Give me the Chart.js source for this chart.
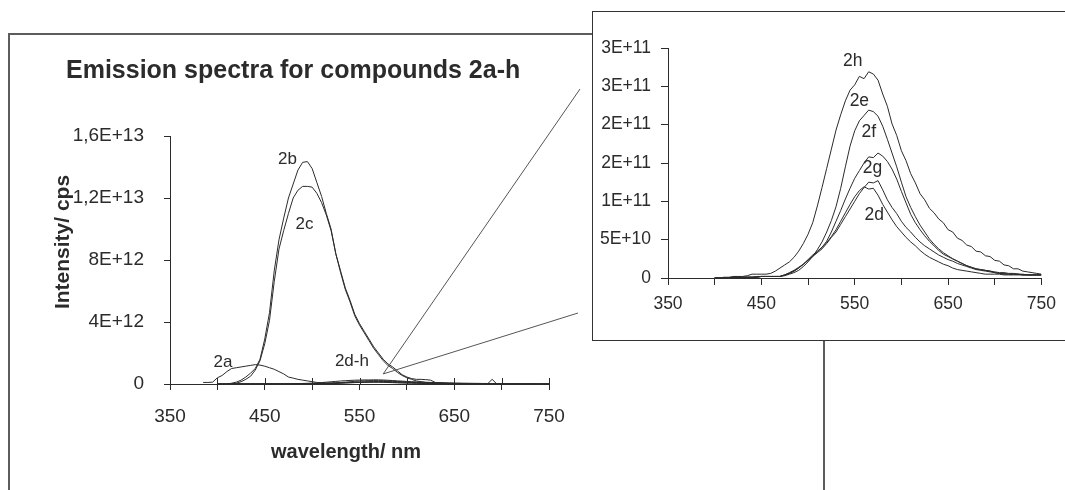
<!DOCTYPE html>
<html>
<head>
<meta charset="utf-8">
<script src="https://cdn.jsdelivr.net/npm/chart.js@4.4.0/dist/chart.umd.min.js"></script>
<style>
  body { margin: 0; background: #fff; }
  #page { position: relative; width: 1065px; height: 490px; overflow: hidden; background: #fff; }
  #frame { position: absolute; left: 8px; top: 33px; width: 813px; height: 480px; border: 2px solid #5c5c5c; }
  #main { position: absolute; left: 0; top: 0; }
  #inset { position: absolute; left: 592px; top: 11px; width: 500px; height: 328px; border: 1px solid #333; background: #fff; }
  #insetChart { position: absolute; left: 0; top: 0; }
</style>
</head>
<body>
<div id="page">
  <div id="frame"></div>
  <canvas id="main" width="1065" height="490"></canvas>
  <div id="inset"><canvas id="insetChart" width="472" height="328"></canvas></div>
</div>
<script>
const FONT = '"Liberation Sans", Arial, sans-serif';
const INK = '#2b2b2b';

// tick labels (as printed on the original)
const xTickLabels = ['350', '', '450', '', '550', '', '650', '', '750'];
const mainYTickLabels = ['0', '4E+12', '8E+12', '1,2E+13', '1,6E+13'];
const insetYTickLabels = ['0', '5E+10', '1E+11', '2E+11', '2E+11', '3E+11', '3E+11'];

// main plot, wavelength (nm) and intensity in units of 1E12 cps
const mainWl = [380, 385, 390, 395, 400, 405, 410, 415, 420, 425, 430, 435, 440, 445, 450, 455,
  460, 465, 470, 475, 480, 485, 490, 495, 500, 505, 510, 515, 520, 525, 530, 535, 540, 545,
  550, 555, 560, 565, 570, 575, 580, 585, 590, 595, 600, 605, 610, 615, 620, 625, 630, 635,
  640, 645, 650, 655, 660, 665, 670, 675, 680, 685, 690, 695, 700];
const s2a = [null, 0.1, 0.1, 0.12, 0.4, 0.55, 0.8, 1.0, 1.05, 1.1, 1.15, 1.2, 1.25, 1.22, 1.15, 1.05,
  0.95, 0.8, 0.65, 0.45, 0.38, 0.3, 0.25, 0.2, 0.15, 0.1, 0.08, 0.05, 0.03, 0.02, 0,
  null, null, null, null, null, null, null, null, null, null, null, null, null, null, null, null,
  null, null, null, null, null, null, null, null, null, null, null, null, null, null, null, null, null, null];
const s2b = [null, null, null, null, null, null, 0, 0.05, 0.12, 0.25, 0.45, 0.7, 1.0, 1.6, 2.9, 4.6,
  7.3, 9.3, 10.7, 12.0, 12.9, 13.8, 14.3, 14.35, 13.9, 13.0, 12.1, 11.0, 10.0, 8.4, 7.3, 6.2, 5.4, 4.5,
  3.9, 3.4, 2.9, 2.4, 2.0, 1.6, 1.3, 1.1, 0.85, 0.6, 0.45, 0.35, 0.3, 0.3, 0.28, 0.25, 0.1, 0.08,
  0.06, 0.05, 0.04, 0.02, 0, null, null, null, null, 0, 0.3, 0, null];
const s2c = [null, null, null, null, null, null, 0, 0.02, 0.05, 0.15, 0.3, 0.5, 0.9, 1.5, 2.6, 4.1,
  6.6, 8.7, 9.9, 11.0, 12.0, 12.5, 12.75, 12.75, 12.7, 12.3, 11.7, 10.9, 9.9, 8.4, 7.2, 6.1, 5.3, 4.4,
  3.8, 3.3, 2.8, 2.3, 1.9, 1.5, 1.2, 1.0, 0.75, 0.55, 0.4, 0.3, 0.2, 0.15, 0.1, 0.08, 0.05, 0.03,
  0.02, 0.01, 0, null, null, null, null, null, null, null, null, null, null];

// inset, wavelength (nm) and intensity in units of 1E11 cps
const insetWl = [400, 405, 410, 415, 420, 425, 430, 435, 440, 445, 450, 455, 460, 465, 470, 475,
  480, 485, 490, 495, 500, 505, 510, 515, 520, 525, 530, 535, 540, 545, 550, 555, 560, 565, 570,
  575, 580, 585, 590, 595, 600, 605, 610, 615, 620, 625, 630, 635, 640, 645, 650, 655, 660, 665,
  670, 675, 680, 685, 690, 695, 700, 705, 710, 715, 720, 725, 730, 735, 740, 745, 750];
const s2h = [0, 0, 0.01, 0.01, 0.02, 0.02, 0.02, 0.03, 0.05, 0.05, 0.05, 0.05, 0.06, 0.09, 0.13, 0.17,
  0.21, 0.27, 0.35, 0.45, 0.57, 0.72, 0.94, 1.18, 1.43, 1.68, 1.93, 2.13, 2.31, 2.45, 2.52, 2.63,
  2.6, 2.69, 2.66, 2.58, 2.4, 2.24, 2.01, 1.86, 1.66, 1.53, 1.36, 1.24, 1.1, 1.02, 0.91, 0.85,
  0.77, 0.72, 0.63, 0.6, 0.52, 0.49, 0.43, 0.41, 0.35, 0.34, 0.29, 0.28, 0.23, 0.22, 0.17, 0.16,
  0.12, 0.12, 0.09, 0.08, 0.07, 0.06, 0.05];
const s2e = [0, 0, 0, 0, 0.01, 0.01, 0.01, 0.01, 0.01, 0.02, 0.02, 0.02, 0.02, 0.02, 0.02, 0.03,
  0.05, 0.07, 0.1, 0.15, 0.21, 0.28, 0.37, 0.47, 0.6, 0.75, 0.93, 1.17, 1.45, 1.72, 1.92, 2.05,
  2.12, 2.19, 2.17, 2.11, 1.98, 1.81, 1.63, 1.45, 1.25, 1.06, 0.92, 0.8, 0.69, 0.6, 0.51, 0.44,
  0.38, 0.33, 0.29, 0.25, 0.22, 0.19, 0.16, 0.14, 0.12, 0.11, 0.1, 0.09, 0.08, 0.07, 0.07, 0.06,
  0.06, 0.05, 0.05, 0.04, 0.04, 0.04, 0.04];
const s2f = [0, 0, 0, 0, 0.01, 0.01, 0.01, 0.01, 0.01, 0.01, 0.02, 0.02, 0.02, 0.02, 0.02, 0.04,
  0.07, 0.1, 0.14, 0.18, 0.24, 0.3, 0.35, 0.4, 0.48, 0.6, 0.74, 0.88, 1.03, 1.17, 1.3, 1.4,
  1.5, 1.58, 1.57, 1.63, 1.59, 1.52, 1.42, 1.29, 1.13, 0.98, 0.83, 0.72, 0.63, 0.55, 0.48, 0.42,
  0.36, 0.31, 0.28, 0.25, 0.22, 0.19, 0.16, 0.14, 0.12, 0.11, 0.1, 0.09, 0.07, 0.06, 0.05, 0.05,
  0.05, 0.05, 0.04, 0.04, 0.04, 0.04, 0.04];
const s2g = [0, 0, 0, 0, 0.01, 0.01, 0.01, 0.01, 0.01, 0.01, 0.02, 0.02, 0.02, 0.02, 0.02, 0.04,
  0.06, 0.09, 0.13, 0.18, 0.23, 0.28, 0.33, 0.38, 0.45, 0.53, 0.6, 0.7, 0.8, 0.9, 1.0, 1.1,
  1.18, 1.25, 1.24, 1.27, 1.15, 1.02, 0.92, 0.84, 0.74, 0.66, 0.6, 0.53, 0.47, 0.42, 0.38, 0.34,
  0.3, 0.27, 0.24, 0.22, 0.19, 0.17, 0.15, 0.13, 0.11, 0.1, 0.09, 0.08, 0.07, 0.06, 0.06, 0.05,
  0.05, 0.05, 0.04, 0.04, 0.04, 0.04, 0.04];
const s2d = [0, 0, 0, 0, 0.01, 0.01, 0.01, 0.01, 0.01, 0.01, 0.02, 0.02, 0.02, 0.02, 0.02, 0.04,
  0.06, 0.09, 0.13, 0.18, 0.23, 0.29, 0.34, 0.4, 0.46, 0.54, 0.63, 0.74, 0.85, 0.96, 1.06, 1.14,
  1.19, 1.16, 1.17, 1.08, 0.96, 0.86, 0.76, 0.67, 0.6, 0.53, 0.47, 0.42, 0.36, 0.31, 0.27, 0.24,
  0.21, 0.18, 0.16, 0.13, 0.11, 0.1, 0.09, 0.08, 0.07, 0.06, 0.05, 0.05, 0.05, 0.05, 0.04, 0.04,
  0.04, 0.04, 0.04, 0.04, 0.04, 0.04, 0.04];

// curve labels, placed in data space (nm, cps)
const mainLabels = ['2b', '2c', '2a', '2d-h'];
const mainLabelX = [474, 492, 406, 542];
const mainLabelY = [14.5e12, 10.3e12, 1.4e12, 1.45e12];
const insetLabels = ['2h', '2e', '2f', '2g', '2d'];
const insetLabelX = [548, 555, 565, 569, 571];
const insetLabelY = [2.83e11, 2.31e11, 1.9e11, 1.43e11, 0.82e11];

function pts(wl, vals, unit) {
  return wl.map((w, i) => ({ x: w, y: vals[i] == null ? null : vals[i] * unit }));
}
function line(data) {
  return { data: data, borderColor: INK, borderWidth: 1, pointRadius: 0, tension: 0, spanGaps: false, fill: false };
}

const mainDecor = {
  id: 'mainDecor',
  afterDraw(chart) {
    const ctx = chart.ctx, x = chart.scales.x, y = chart.scales.y;
    ctx.save();
    ctx.strokeStyle = INK;
    ctx.lineWidth = 1;
    // x tick marks also reach up into the plot
    x.ticks.forEach(t => {
      const px = Math.round(x.getPixelForValue(t.value)) + 0.5;
      ctx.beginPath();
      ctx.moveTo(px, y.bottom);
      ctx.lineTo(px, y.bottom - 6);
      ctx.stroke();
    });
    ctx.fillStyle = INK;
    ctx.font = 'bold 25px ' + FONT;
    ctx.textAlign = 'left';
    ctx.textBaseline = 'alphabetic';
    ctx.fillText('Emission spectra for compounds 2a-h', 66, 78);
    ctx.font = 'bold 20px ' + FONT;
    ctx.textAlign = 'center';
    ctx.textBaseline = 'middle';
    ctx.fillText('wavelength/ nm', 346, 452);
    ctx.save();
    ctx.font = 'bold 21px ' + FONT;
    ctx.translate(63, 242);
    ctx.rotate(-Math.PI / 2);
    ctx.fillText('Intensity/ cps', 0, 0);
    ctx.restore();
    ctx.font = '17px ' + FONT;
    mainLabels.forEach((t, i) => {
      ctx.fillText(t, x.getPixelForValue(mainLabelX[i]), y.getPixelForValue(mainLabelY[i]));
    });
    // zoom connector lines to the inset
    const box = document.getElementById('inset').getBoundingClientRect();
    const sx = x.getPixelForValue(575), sy = y.getPixelForValue(0.65e12);
    ctx.strokeStyle = '#555';
    ctx.beginPath();
    ctx.moveTo(sx, sy); ctx.lineTo(box.left - 12, box.top + 78);
    ctx.moveTo(sx, sy); ctx.lineTo(box.left - 14, box.bottom - 28);
    ctx.stroke();
    ctx.restore();
  }
};

const insetDecor = {
  id: 'insetDecor',
  afterDraw(chart) {
    const ctx = chart.ctx, x = chart.scales.x, y = chart.scales.y;
    ctx.save();
    ctx.fillStyle = INK;
    ctx.font = '17.5px ' + FONT;
    ctx.textAlign = 'center';
    ctx.textBaseline = 'middle';
    insetLabels.forEach((t, i) => {
      ctx.fillText(t, x.getPixelForValue(insetLabelX[i]), y.getPixelForValue(insetLabelY[i]));
    });
    ctx.restore();
  }
};

function axis(min, max, step, labels, opts) {
  return {
    type: 'linear', min: min, max: max,
    border: { color: INK, width: 1 },
    grid: { drawOnChartArea: false, drawTicks: true, tickLength: opts.tick, color: INK },
    ticks: {
      stepSize: step, autoSkip: false, maxRotation: 0, padding: opts.pad, color: INK,
      font: { family: FONT, size: opts.size },
      callback: (v, i) => labels[i]
    },
    afterFit: opts.fit
  };
}

new Chart(document.getElementById('main'), {
  type: 'line',
  data: {
    datasets: [
      line(pts(mainWl, s2a, 1e12)),
      line(pts(mainWl, s2b, 1e12)),
      line(pts(mainWl, s2c, 1e12)),
      line(pts(insetWl, s2d, 1e11)),
      line(pts(insetWl, s2e, 1e11)),
      line(pts(insetWl, s2f, 1e11)),
      line(pts(insetWl, s2g, 1e11)),
      line(pts(insetWl, s2h, 1e11))
    ]
  },
  options: {
    responsive: false, animation: false, devicePixelRatio: 1,
    layout: { padding: { left: 0, top: 136, right: 516, bottom: 0 } },
    plugins: { legend: { display: false }, tooltip: { enabled: false }, title: { display: false } },
    scales: {
      x: axis(350, 750, 50, xTickLabels, { tick: 6, pad: 15, size: 19, fit: s => { s.height = 106; } }),
      y: axis(0, 1.6e13, 4e12, mainYTickLabels, { tick: 6, pad: 20, size: 19, fit: s => { s.width = 170; } })
    }
  },
  plugins: [mainDecor]
});

new Chart(document.getElementById('insetChart'), {
  type: 'line',
  data: {
    datasets: [
      line(pts(insetWl, s2d, 1e11)),
      line(pts(insetWl, s2e, 1e11)),
      line(pts(insetWl, s2f, 1e11)),
      line(pts(insetWl, s2g, 1e11)),
      line(pts(insetWl, s2h, 1e11))
    ]
  },
  options: {
    responsive: false, animation: false, devicePixelRatio: 1,
    layout: { padding: { left: 0, top: 36, right: 19, bottom: 0 } },
    plugins: { legend: { display: false }, tooltip: { enabled: false }, title: { display: false } },
    scales: {
      x: axis(350, 750, 50, xTickLabels, { tick: 7, pad: 9, size: 17.5, fit: s => { s.height = 62; } }),
      y: axis(0, 3e11, 5e10, insetYTickLabels, { tick: 7, pad: 10, size: 17.5, fit: s => { s.width = 75; } })
    }
  },
  plugins: [insetDecor]
});
</script>
</body>
</html>
